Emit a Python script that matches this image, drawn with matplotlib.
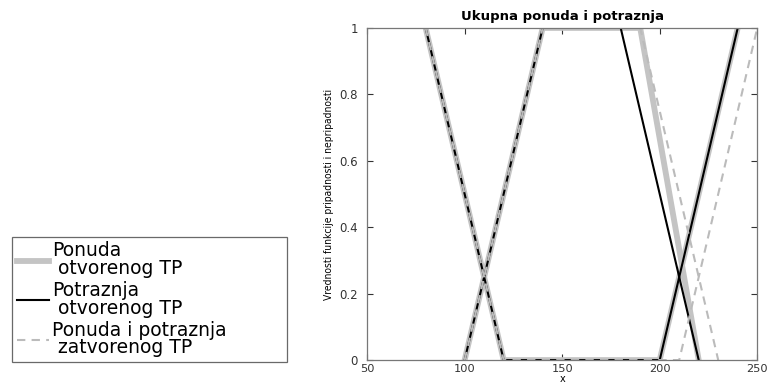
import matplotlib
matplotlib.use("Agg")
import matplotlib.pyplot as plt
from matplotlib import font_manager as fm

# Membership / non-membership breakpoints (x, value)
ponuda_otv_pri_x = [100, 140, 190, 220]
ponuda_otv_pri_y = [0, 1, 1, 0]
ponuda_otv_nep_x = [80, 120, 200, 240]
ponuda_otv_nep_y = [1, 0, 0, 1]

potraznja_otv_pri_x = [100, 140, 180, 220]
potraznja_otv_pri_y = [0, 1, 1, 0]
potraznja_otv_nep_x = [80, 120, 200, 240]
potraznja_otv_nep_y = [1, 0, 0, 1]

zatv_pri_x = [100, 140, 190, 230]
zatv_pri_y = [0, 1, 1, 0]
zatv_nep_x = [80, 120, 210, 250]
zatv_nep_y = [1, 0, 0, 1]

x_ticks = [50, 100, 150, 200, 250]
y_ticks = [0, 0.2, 0.4, 0.6, 0.8, 1]
y_tick_labels = ["0", "0.2", "0.4", "0.6", "0.8", "1"]

legend_labels = ["Ponuda\n otvorenog TP",
                 "Potraznja\n otvorenog TP",
                 "Ponuda i potraznja\n zatvorenog TP"]

plt.rcParams['font.family'] = ['DejaVu Sans']


def narrow_font():
    # pick a condensed face for the long vertical label if one is available
    for fam, stretch in (("Liberation Sans Narrow", "normal"),
                         ("DejaVu Sans", "condensed")):
        try:
            prop = fm.FontProperties(family=fam, stretch=stretch)
            path = fm.findfont(prop, fallback_to_default=False)
            if "Narrow" in path or "Condensed" in path:
                return fm.FontProperties(fname=path, size=7.4)
        except Exception:
            pass
    return fm.FontProperties(family="Liberation Sans", size=6.9)


fig = plt.figure(figsize=(7.68, 3.88), dpi=100)
ax = fig.add_axes([0.478, 0.072, 0.508, 0.856])

grey = "#c4c4c4"
h1, = ax.plot(ponuda_otv_pri_x, ponuda_otv_pri_y, color=grey, lw=4.2,
              solid_joinstyle="miter")
ax.plot(ponuda_otv_nep_x, ponuda_otv_nep_y, color=grey, lw=4.2,
        solid_joinstyle="miter")
h2, = ax.plot(potraznja_otv_pri_x, potraznja_otv_pri_y, color="black", lw=1.5)
ax.plot(potraznja_otv_nep_x, potraznja_otv_nep_y, color="black", lw=1.5)
h3, = ax.plot(zatv_pri_x, zatv_pri_y, color="#bbbbbb", lw=1.5,
              dashes=(4, 3))
ax.plot(zatv_nep_x, zatv_nep_y, color="#bbbbbb", lw=1.5, dashes=(4, 3))

ax.set_xlim(50, 250)
ax.set_ylim(0, 1)
ax.set_xticks(x_ticks)
ax.set_yticks(y_ticks)
ax.set_yticklabels(y_tick_labels)
ax.tick_params(direction="in", top=True, right=True, length=4, width=0.8,
               labelsize=8.5, colors="#333333")
ax.tick_params(axis="y", pad=6.5)
ax.tick_params(axis="x", pad=2.5, labelsize=8.2)
for sp in ax.spines.values():
    sp.set_color("#777777")
    sp.set_linewidth(0.9)

ax.set_title("Ukupna ponuda i potraznja", fontsize=9.5, fontweight="bold",
             pad=6)
ax.set_xlabel("x", fontsize=7, labelpad=0)
ax.set_ylabel("Vrednosti funkcije pripadnosti i nepripadnosti",
              fontproperties=narrow_font(), labelpad=4)

leg = fig.legend([h1, h2, h3], legend_labels, loc="lower left",
                 bbox_to_anchor=(12 / 768, 1 - 362 / 388, 275 / 768, 0.0),
                 mode="expand",
                 fontsize=13.5, frameon=True, fancybox=False,
                 handlelength=1.7, handletextpad=0.2, borderpad=0.25,
                 labelspacing=0.15, borderaxespad=0)
for t in leg.get_texts():
    t.set_linespacing(0.92)
leg.get_frame().set_edgecolor("#444444")
leg.get_frame().set_linewidth(0.9)

fig.savefig("out.png", dpi=100)
